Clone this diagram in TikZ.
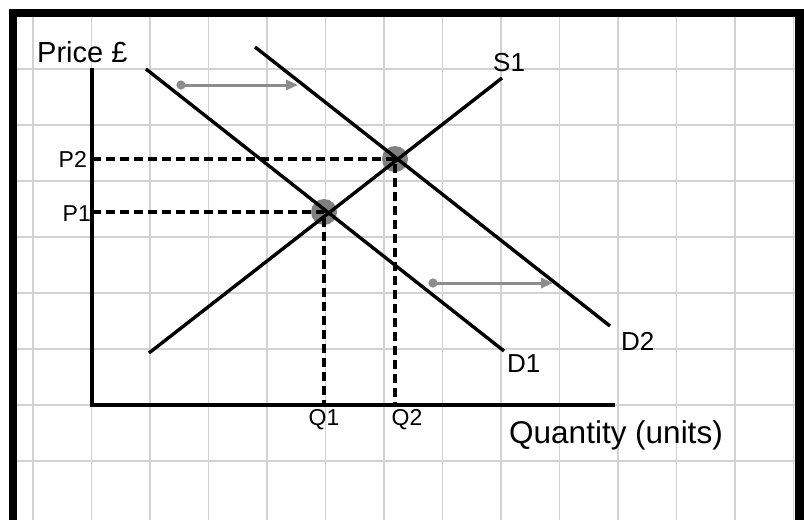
\documentclass[tikz,border=0pt]{standalone}
\usepackage{fontspec}
\setmainfont{Liberation Sans}
\usetikzlibrary{arrows.meta}
\definecolor{gridc}{HTML}{D2D2D2}
\definecolor{dotc}{HTML}{808080}
\definecolor{arrc}{HTML}{8C8C8C}
\begin{document}
\begin{tikzpicture}[x=1pt,y=-1pt,
  gridline/.style={draw=gridc,line width=1.5pt},
  curve/.style={draw=black,line width=3.4pt},
  axis/.style={draw=black,line width=3.4pt},
  guide/.style={draw=black,line width=3.1pt,dash pattern=on 9pt off 5pt},
  eqdot/.style={circle,fill=dotc,minimum size=26pt,inner sep=0pt},
  shift arrow/.style={draw=arrc,line width=3pt,{Circle[length=9pt]}-{Triangle[length=12pt,width=10pt]}},
  biglabel/.style={inner sep=0pt,font=\fontsize{29}{32}\selectfont},
  qlabel/.style={inner sep=0pt,font=\fontsize{31.5}{34}\selectfont},
  midlabel/.style={inner sep=0pt,font=\fontsize{26}{29}\selectfont},
  smalllabel/.style={inner sep=0pt,font=\fontsize{23}{26}\selectfont}]
\useasboundingbox (0,0) rectangle (804,520);
\fill[white] (0,0) rectangle (804,520);
% grid
\foreach \k in {0,...,13} \draw[gridline] ({33+58.5*\k},17) -- ({33+58.5*\k},520);
\foreach \k in {1,...,8} \draw[gridline] (17,{13+56*\k}) -- (795,{13+56*\k});
% frame
\fill[black] (9,9) rectangle (804,17);
\fill[black] (9,9) rectangle (17,520);
\fill[black] (795,9) rectangle (804,520);
% axes
\coordinate (ytop) at (92,68);
\coordinate (origin) at (92,405);
\coordinate (xend) at (615,405);
\draw[axis] (ytop) -- (origin) -- (xend);
% curves
\coordinate (d1a) at (146,69);
\coordinate (d1b) at (504,351);
\coordinate (d2a) at (255,47);
\coordinate (d2b) at (610,326);
\coordinate (s1a) at (149,353);
\coordinate (s1b) at (502,78);
% equilibria
\node[eqdot] (e1) at (324,212) {};
\node[eqdot] (e2) at (395,159) {};
% guides
\coordinate (p1) at (92,212);
\coordinate (p2) at (92,159);
\coordinate (q1) at (324,405);
\coordinate (q2) at (395,405);
\draw[guide] (p2) -- (e2.center) -- (q2);
\draw[guide] (p1) -- (e1.center) -- (q1);
\draw[curve] (d1a) -- (d1b);
\draw[curve] (d2a) -- (d2b);
\draw[curve] (s1a) -- (s1b);
% shift arrows
\coordinate (a1s) at (176.5,85);
\coordinate (a1e) at (298,85);
\coordinate (a2s) at (428.5,283);
\coordinate (a2e) at (553,283);
\draw[shift arrow] (a1s) -- (a1e);
\draw[shift arrow] (a2s) -- (a2e);
% labels
\node[biglabel,anchor=base west] (price) at (37,62) {Price £};
\node[qlabel,anchor=base west] (qty) at (509,443) {Quantity (units)};
\node[midlabel,anchor=base west] (s1l) at (493,71) {S1};
\node[midlabel,anchor=base west] (d1l) at (507,372) {D1};
\node[midlabel,anchor=base west] (d2l) at (621,350) {D2};
\node[smalllabel,anchor=base east] (p2l) at (87,167) {P2};
\node[smalllabel,anchor=base east] (p1l) at (91,221) {P1};
\node[smalllabel,anchor=base] (q1l) at (324,425) {Q1};
\node[smalllabel,anchor=base] (q2l) at (407,425) {Q2};
\end{tikzpicture}
\end{document}
